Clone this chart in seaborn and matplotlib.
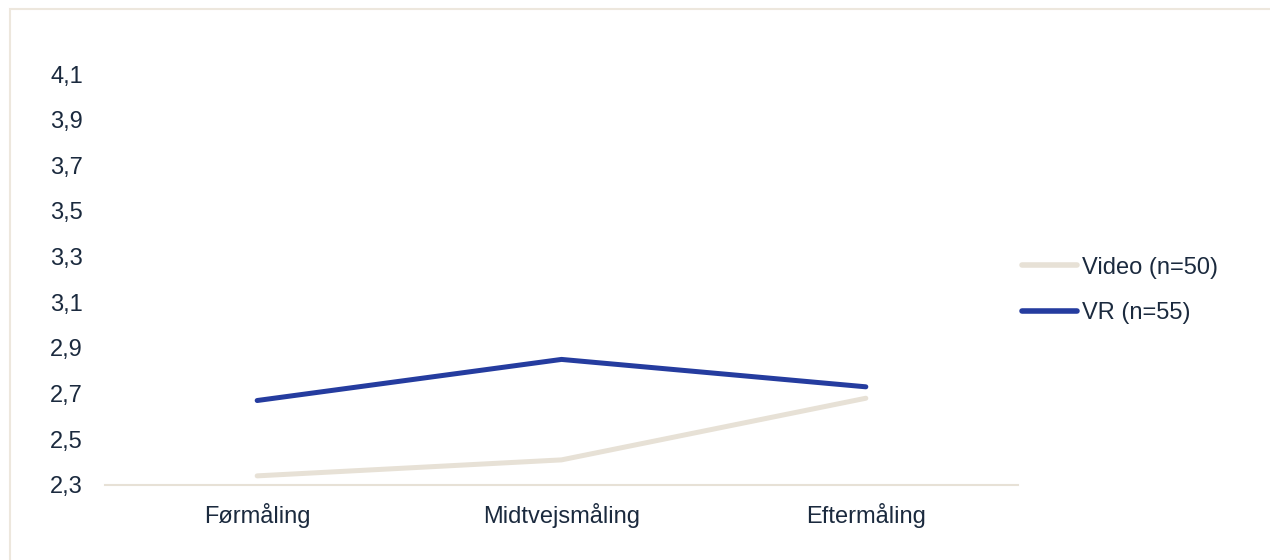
import matplotlib
matplotlib.use("Agg")
import matplotlib.pyplot as plt
from matplotlib.patches import Rectangle
import seaborn as sns
import pandas as pd

# Survey measurements (mean scores) per group
measurements = ["Førmåling", "Midtvejsmåling", "Eftermåling"]
video_values = [2.34, 2.41, 2.68]
vr_values = [2.67, 2.85, 2.73]
group_labels = ["Video (n=50)", "VR (n=55)"]
y_ticks = [2.3, 2.5, 2.7, 2.9, 3.1, 3.3, 3.5, 3.7, 3.9, 4.1]

df = pd.DataFrame({
    "Måling": measurements * 2,
    "Score": video_values + vr_values,
    "Gruppe": [group_labels[0]] * 3 + [group_labels[1]] * 3,
})

sns.set_theme(style="white")
plt.rcParams["font.family"] = ["Liberation Sans", "DejaVu Sans"]

text_color = "#1B2A3E"
palette = {group_labels[0]: "#E7E1D6", group_labels[1]: "#253C9F"}
fs = 17

fig = plt.figure(figsize=(12.7, 5.6), dpi=100)
ax = fig.add_axes([105 / 1270, 1 - 485 / 560, (1018 - 105) / 1270, (485 - 74) / 560])

sns.lineplot(data=df, x="Måling", y="Score", hue="Gruppe", palette=palette,
             linewidth=3.6, ax=ax, sort=False, legend=True)
for line in ax.get_lines():
    line.set_solid_capstyle("round")

ax.set_xlim(-0.5, 2.5)
ax.set_ylim(2.3, 4.1)
ax.set_yticks(y_ticks)
ax.set_yticklabels([f"{v:.1f}".replace(".", ",") for v in y_ticks])
ax.set_xlabel("")
ax.set_ylabel("")
ax.tick_params(axis="y", length=0, pad=16, labelsize=fs, labelcolor=text_color)
ax.tick_params(axis="x", length=0, pad=13, labelsize=fs, labelcolor=text_color)

for side in ["top", "right", "left"]:
    ax.spines[side].set_visible(False)
ax.spines["bottom"].set_color("#E7E1D6")
ax.spines["bottom"].set_linewidth(1.5)

handles, labels = ax.get_legend_handles_labels()
ax.legend(handles, labels, loc="center left",
          bbox_to_anchor=(1022 / 1270, 1 - 290.5 / 560),
          bbox_transform=fig.transFigure, frameon=False, fontsize=fs,
          labelcolor=text_color, handlelength=2.35, handletextpad=0.18,
          labelspacing=1.0, borderpad=0, borderaxespad=0)
for lh in ax.get_legend().get_lines():
    lh.set_linewidth(4)
    lh.set_solid_capstyle("round")

# Light frame around the chart area (display coordinates, origin bottom-left)
fig.patches.append(Rectangle((10, -100), 1400, 651, transform=None, fill=False,
                             edgecolor="#EDE7DD", linewidth=1.5))

fig.savefig("out.png", dpi=100, facecolor="white")
